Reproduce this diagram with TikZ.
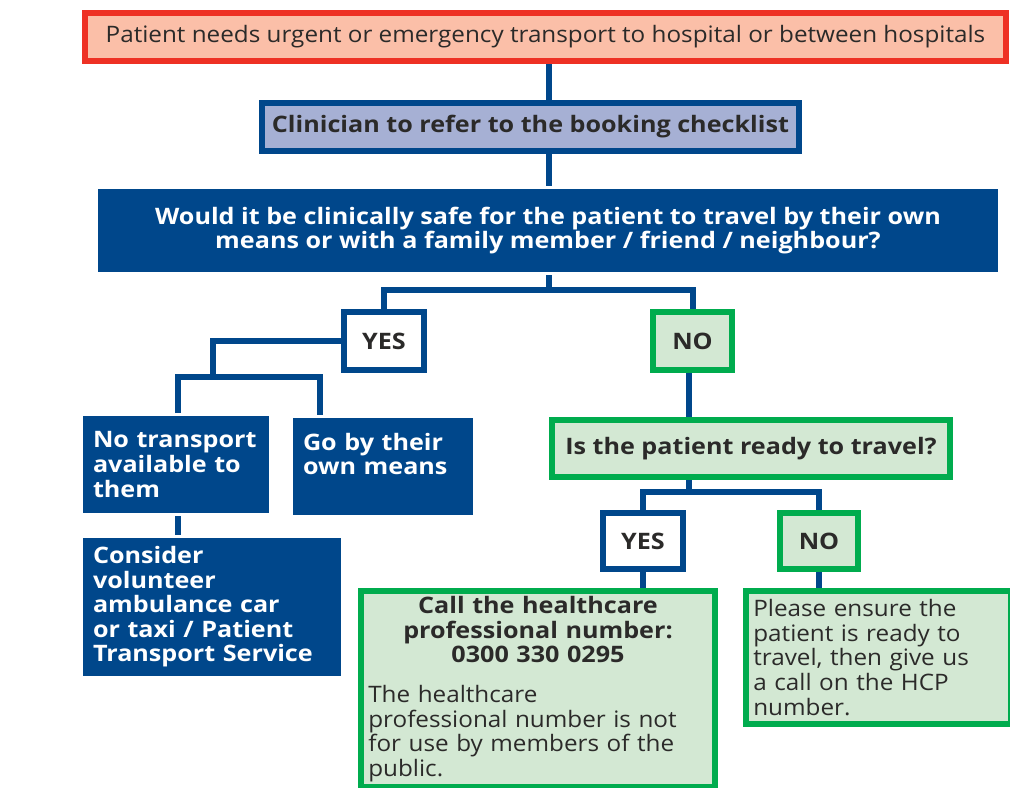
\documentclass[tikz,border=0pt]{standalone}
\usepackage{fontspec}
\setmainfont{Open Sans}[UprightFeatures={FakeStretch=1.07},BoldFeatures={FakeStretch=1.11}]
\usepackage{tikz}
\usetikzlibrary{backgrounds}

\definecolor{nhsnavy}{HTML}{00478B}
\definecolor{alertred}{HTML}{EE3124}
\definecolor{salmon}{HTML}{FBBFA8}
\definecolor{lavender}{HTML}{A6B0D4}
\definecolor{okgreen}{HTML}{00AC4E}
\definecolor{palegreen}{HTML}{D3E8D3}
\definecolor{inkgray}{HTML}{2B2A29}

\newcommand{\chartfont}{\fontsize{17}{18.4}\selectfont}

\begin{document}
\begin{tikzpicture}[x=0.75pt,y=-0.75pt,line width=4.5pt,
                    every node/.style={rectangle,inner sep=0pt,font=\chartfont}]
  \tikzstyle{redbox}=[draw=alertred,fill=salmon,text=inkgray]
  \tikzstyle{lavbox}=[draw=nhsnavy,fill=lavender,text=inkgray,font=\chartfont\bfseries]
  \tikzstyle{navybox}=[fill=nhsnavy,text=white,font=\chartfont\bfseries,inner xsep=7.5pt]
  \tikzstyle{yesbox}=[draw=nhsnavy,fill=white,text=inkgray,font=\chartfont\bfseries]
  \tikzstyle{greenbox}=[draw=okgreen,fill=palegreen,text=inkgray,inner xsep=5.5pt]
  \tikzstyle{link}=[draw=nhsnavy,line width=4.5pt]

  \useasboundingbox (0,0) rectangle (1010,788);
  \clip (0,0) rectangle (1010,788);

  \node[redbox,minimum width=690.75pt,minimum height=36pt] (need) at (545.5,37)
    {Patient needs urgent or emergency transport to hospital or between hospitals};
  \node[lavbox,minimum width=402.75pt,minimum height=36pt] (checklist) at (530.5,127)
    {Clinician to refer to the booking checklist};
  \node[navybox,minimum width=675pt,minimum height=62.25pt,align=center] (safe) at (548,230.5)
    {Would it be clinically safe for the patient to travel by their own\\
     means or with a family member / friend / neighbour?};

  \node[yesbox,minimum width=60pt,minimum height=43.5pt] (yes) at (384,341) {YES};
  \node[greenbox,font=\chartfont\bfseries,minimum width=59.25pt,minimum height=43.5pt] (no) at (692.5,341) {NO};

  \node[navybox,text width=124.5pt,minimum height=72.75pt] (notrans) at (176,464.5)
    {No transport\\ available to\\ them};
  \node[navybox,text width=120pt,minimum height=72.75pt] (ownway) at (383,466)
    {Go by their\\ own means\\ \mbox{}};
  \node[navybox,text width=178.5pt,minimum height=103.5pt] (volunteer) at (212,607)
    {Consider\\ volunteer\\ ambulance car\\ or taxi / Patient\\ Transport Service};

  \node[greenbox,font=\chartfont\bfseries,minimum width=298.5pt,minimum height=42.75pt] (ready) at (751,448.5)
    {Is the patient ready to travel?};
  \node[yesbox,minimum width=60pt,minimum height=42pt] (yes2) at (643,541) {YES};
  \node[greenbox,font=\chartfont\bfseries,minimum width=58.5pt,minimum height=42pt] (no2) at (819,541) {NO};

  \node[greenbox,text width=254.5pt,minimum height=147pt] (hcp) at (538,689)
    {{\centering\bfseries Call the healthcare\\ professional number:\\ 0300 330 0295\par}
     \vspace{11.5pt}\raggedright The healthcare\\ professional number is not\\
     for use by members of the\\ public.};
  \node[greenbox,text width=187.75pt,minimum height=99.75pt] (ensure) at (878.5,657.5)
    {\raggedright Please ensure the\\ patient is ready to\\ travel, then give us\\
     a call on the HCP\\ number.};

  % joints of the connector tree
  \coordinate (trunk) at (549,0);
  \coordinate (fork1) at (549,290);
  \coordinate (fork2) at (213,377);
  \coordinate (left2) at (178,377);
  \coordinate (right2) at (320,377);
  \coordinate (fork3) at (689,492);

  \begin{pgfonlayer}{background}
    \draw[link] (need.south -| trunk) -- (checklist.north -| trunk);
    \draw[link] (checklist.south -| trunk) -- (safe.north -| trunk);
    \draw[link] (safe.south -| fork1) -- (fork1);
    \draw[link] (yes.north) |- (fork1) -| (no.north);
    \draw[link] (yes.west) -| (fork2);
    \draw[link] (notrans.north -| left2) |- (right2) -- (right2 |- ownway.north);
    \draw[link] (notrans.south -| left2) -- (volunteer.north -| left2);
    \draw[link] (no.south -| fork3) -- (ready.north -| fork3);
    \draw[link] (ready.south -| fork3) -- (fork3);
    \draw[link] (yes2.north) |- (fork3) -| (no2.north);
    \draw[link] (yes2.south) -- (hcp.north -| yes2.south);
    \draw[link] (no2.south) -- (ensure.north -| no2.south);
  \end{pgfonlayer}
\end{tikzpicture}
\end{document}
